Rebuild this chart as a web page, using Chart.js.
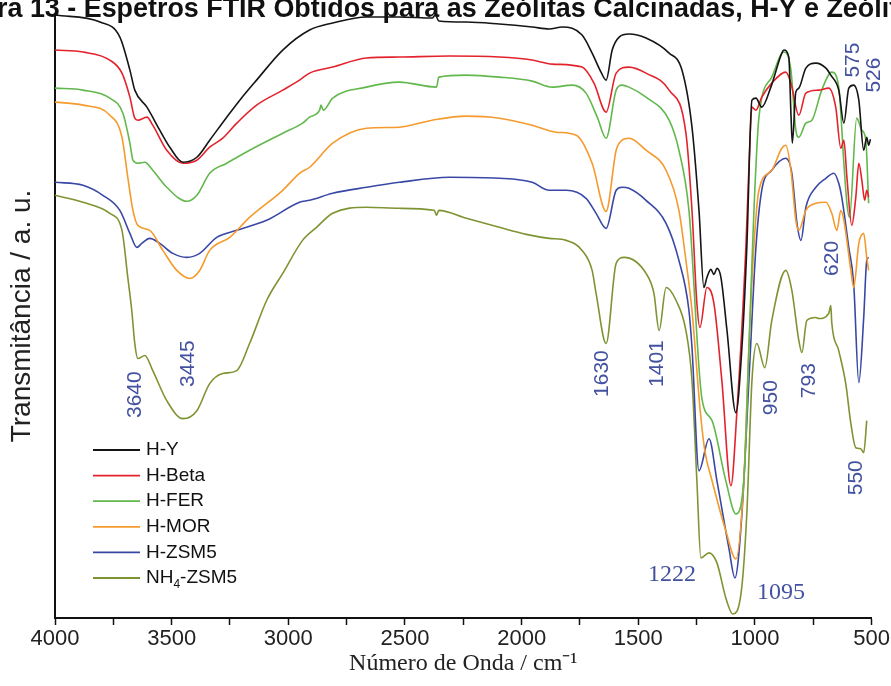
<!DOCTYPE html>
<html>
<head>
<meta charset="utf-8">
<script src="https://cdn.jsdelivr.net/npm/chart.js@4.4.1/dist/chart.umd.min.js"></script>
<style>
  html, body { margin: 0; padding: 0; background: #fff; }
  #wrap { width: 891px; height: 686px; position: relative; }
</style>
</head>
<body>
<div id="wrap"><canvas id="ftir" width="891" height="686"></canvas></div>
<script>
// spectra: [wavenumber cm-1, transmittance a.u.]
const hY = [
  [4000, 602], [3807, 595], [3722, 580], [3679, 547], [3658, 527], [3606, 510], [3551, 487],
  [3508, 470], [3452, 455], [3392, 460], [3337, 477], [3264, 500], [3208, 517], [3136, 537],
  [3024, 567], [2909, 587], [2810, 594], [2665, 600], [2524, 600], [2383, 599], [2370, 602],
  [2355, 596], [2237, 595], [2096, 593], [1955, 590], [1882, 588], [1826, 590], [1741, 582],
  [1698, 564], [1660, 545], [1638, 537], [1612, 567], [1582, 580], [1540, 583], [1467, 579],
  [1368, 564], [1313, 547], [1270, 490], [1240, 407], [1219, 330], [1206, 340], [1189, 348],
  [1176, 343], [1163, 349], [1146, 340], [1120, 287], [1082, 205], [1056, 270], [1035, 370],
  [1013, 517], [996, 519], [971, 510], [932, 530], [885, 564], [876, 567], [855, 560],
  [846, 504], [840, 474], [825, 525], [812, 529], [782, 549], [739, 554], [696, 549],
  [675, 542], [641, 527], [619, 494], [598, 529], [577, 532], [555, 517], [534, 467],
  [521, 480], [513, 472], [505, 478]
];
const hBeta = [
  [4000, 567], [3880, 565], [3765, 557], [3713, 544], [3679, 520], [3658, 499], [3645, 497],
  [3606, 500], [3581, 492], [3521, 467], [3452, 454], [3392, 457], [3337, 470], [3281, 479],
  [3221, 494], [3136, 512], [3024, 527], [2952, 537], [2909, 544], [2810, 550], [2665, 559],
  [2524, 560], [2310, 561], [2096, 560], [1955, 557], [1869, 553], [1741, 550], [1690, 534],
  [1638, 505], [1595, 544], [1540, 550], [1467, 544], [1368, 527], [1296, 484], [1270, 407],
  [1249, 314], [1236, 290], [1206, 330], [1176, 314], [1142, 237], [1103, 132], [1078, 204],
  [1039, 370], [1026, 450], [1013, 510], [996, 507], [971, 520], [928, 534], [868, 545],
  [846, 534], [812, 502], [782, 524], [727, 527], [684, 529], [654, 510], [632, 469],
  [619, 477], [606, 440], [585, 392], [568, 420], [555, 454], [542, 437], [530, 417],
  [521, 427], [513, 420]
];
const hFer = [
  [4000, 529], [3880, 527], [3765, 519], [3709, 504], [3679, 474], [3666, 457], [3645, 454],
  [3615, 455], [3581, 447], [3521, 430], [3435, 416], [3392, 422], [3337, 444], [3264, 454],
  [3166, 467], [3024, 484], [2939, 494], [2909, 500], [2866, 507], [2860, 512], [2850, 507],
  [2810, 519], [2665, 530], [2524, 535], [2365, 530], [2355, 540], [2237, 542], [2096, 540],
  [1955, 536], [1869, 530], [1783, 532], [1724, 524], [1676, 500], [1638, 479], [1595, 527],
  [1570, 532], [1540, 530], [1467, 520], [1368, 497], [1326, 467], [1283, 407], [1228, 220],
  [1184, 197], [1125, 137], [1082, 104], [1048, 137], [1026, 270], [1005, 404], [983, 500],
  [928, 540], [876, 565], [846, 547], [825, 487], [812, 480], [782, 494], [756, 497],
  [714, 527], [671, 545], [641, 530], [619, 454], [606, 414], [595, 400], [564, 499],
  [542, 487], [525, 477], [513, 414]
];
const hMor = [
  [4000, 515], [3880, 512], [3765, 502], [3713, 480], [3688, 440], [3666, 407], [3645, 392],
  [3594, 387], [3538, 367], [3478, 347], [3422, 339], [3380, 347], [3337, 367], [3251, 380],
  [3166, 400], [3024, 427], [2952, 444], [2909, 450], [2810, 474], [2665, 489], [2524, 490],
  [2383, 497], [2237, 501], [2096, 499], [1955, 492], [1852, 485], [1766, 482], [1698, 454],
  [1638, 406], [1595, 467], [1570, 477], [1540, 479], [1467, 467], [1381, 447], [1326, 407],
  [1296, 357], [1270, 307], [1236, 210], [1215, 167], [1184, 137], [1125, 87], [1082, 59],
  [1048, 137], [1026, 270], [1005, 370], [983, 427], [928, 447], [885, 469], [868, 472],
  [846, 447], [825, 397], [812, 387], [782, 407], [739, 414], [696, 415], [671, 404],
  [649, 387], [632, 407], [619, 397], [589, 347], [577, 330], [555, 374], [534, 384],
  [521, 360], [513, 347]
];
const hZsm5 = [
  [4000, 435], [3880, 432], [3795, 422], [3722, 407], [3679, 384], [3649, 370], [3628, 374],
  [3594, 379], [3551, 374], [3495, 364], [3435, 360], [3380, 364], [3307, 380], [3221, 387],
  [3093, 397], [2952, 415], [2909, 417], [2810, 424], [2665, 430], [2524, 435], [2310, 440],
  [2096, 439], [1955, 435], [1882, 427], [1809, 427], [1724, 419], [1681, 404], [1638, 389],
  [1595, 427], [1570, 430], [1540, 429], [1467, 417], [1381, 394], [1326, 357], [1283, 307],
  [1270, 270], [1240, 147], [1197, 179], [1163, 137], [1112, 70], [1086, 40], [1056, 104],
  [1026, 237], [996, 370], [971, 427], [928, 447], [868, 459], [842, 444], [820, 394],
  [803, 377], [782, 410], [739, 430], [696, 439], [662, 444], [641, 434], [628, 420],
  [598, 370], [577, 334], [555, 235], [534, 300], [521, 357], [513, 360]
];
const nh4Zsm5 = [
  [4000, 422], [3880, 415], [3765, 404], [3713, 387], [3688, 340], [3671, 307], [3658, 274],
  [3645, 259], [3615, 262], [3581, 247], [3521, 217], [3452, 199], [3392, 207], [3337, 234],
  [3281, 244], [3221, 247], [3166, 274], [3093, 317], [3024, 344], [2939, 377], [2879, 390],
  [2810, 404], [2665, 410], [2524, 409], [2375, 407], [2365, 402], [2355, 407], [2237, 399],
  [2096, 390], [1980, 383], [1882, 379], [1809, 377], [1741, 367], [1698, 347], [1681, 324],
  [1638, 274], [1595, 354], [1561, 360], [1467, 344], [1433, 324], [1411, 287], [1381, 330],
  [1338, 317], [1296, 287], [1270, 237], [1249, 137], [1232, 60], [1197, 65], [1163, 55],
  [1125, 20], [1095, 4], [1060, 24], [1035, 104], [1013, 237], [992, 274], [958, 250],
  [928, 297], [868, 347], [842, 327], [812, 277], [799, 265], [778, 297], [739, 300],
  [727, 299], [684, 304], [675, 312], [671, 295], [641, 267], [611, 234], [589, 194],
  [568, 170], [547, 169], [534, 165], [521, 197]
];

const seriesNames = ["H-Y", "H-Beta", "H-FER", "H-MOR", "H-ZSM5", "NH4-ZSM5"];
const seriesData = [hY, hBeta, hFer, hMor, hZsm5, nh4Zsm5];
const seriesColors = ["#151515", "#e3232c", "#62b84c", "#f59a2c", "#3a48a5", "#7e9432"];
const xTickLabels = [4000, 3500, 3000, 2500, 2000, 1500, 1000, 500];

// band labels: [text, wavenumber, transmittance]
const bandLabels = [
  ["3640", 3658, 223], ["3445", 3431, 254], ["1630", 1655, 244], ["1401", 1420, 254],
  ["950", 932, 220], ["793", 769, 237], ["550", 568, 140], ["620", 671, 359],
  ["575", 577, 557], ["526", 491, 542]
];
const bandLabelsFlat = [["1222", 1356, 43], ["1095", 889, 25]];

const blue = "#4352a0";
const sans = '"Liberation Sans", Arial, sans-serif';
const serif = '"Liberation Serif", "Times New Roman", serif';

const extras = {
  id: "extras",
  afterDraw(chart) {
    const { ctx, chartArea: a, scales: { x, y } } = chart;
    ctx.save();

    // figure caption, cut by the top edge
    const caption = "ra 13 - Espetros FTIR Obtidos para as Zeólitas Calcinadas, H-Y e Zeólit";
    ctx.font = "bold 24px " + sans;
    const w = ctx.measureText(caption).width;
    const fs = 24 * 902 / w;
    ctx.font = "bold " + fs.toFixed(1) + "px " + sans;
    ctx.fillStyle = "#111";
    ctx.textAlign = "left";
    ctx.textBaseline = "alphabetic";
    ctx.fillText(caption, -3, 17);

    // rotated band labels
    ctx.fillStyle = blue;
    ctx.font = "21px " + sans;
    ctx.textAlign = "center";
    ctx.textBaseline = "middle";
    bandLabels.forEach(([t, wn, v]) => {
      ctx.save();
      ctx.translate(x.getPixelForValue(wn), y.getPixelForValue(v));
      ctx.rotate(-Math.PI / 2);
      ctx.fillText(t, 0, 0);
      ctx.restore();
    });
    ctx.font = "24px " + serif;
    bandLabelsFlat.forEach(([t, wn, v]) => {
      ctx.fillText(t, x.getPixelForValue(wn), y.getPixelForValue(v));
    });

    // legend
    const lx = a.left + 38, ly = 450;
    ctx.font = "19px " + sans;
    ctx.textAlign = "left";
    seriesNames.forEach((name, i) => {
      const yy = ly + i * 25.6;
      ctx.strokeStyle = seriesColors[i];
      ctx.lineWidth = 1.8;
      ctx.beginPath();
      ctx.moveTo(lx, yy);
      ctx.lineTo(lx + 47, yy);
      ctx.stroke();
      ctx.fillStyle = "#111";
      if (name === "NH4-ZSM5") {
        ctx.fillText("NH", lx + 53, yy);
        const w1 = ctx.measureText("NH").width;
        ctx.font = "12px " + sans;
        ctx.fillText("4", lx + 53 + w1, yy + 7);
        const w2 = ctx.measureText("4").width;
        ctx.font = "19px " + sans;
        ctx.fillText("-ZSM5", lx + 53 + w1 + w2, yy);
      } else {
        ctx.fillText(name, lx + 53, yy);
      }
    });
    ctx.restore();
  }
};

new Chart(document.getElementById("ftir"), {
  type: "line",
  data: {
    datasets: seriesData.map((d, i) => ({
      label: seriesNames[i],
      data: d.map(p => ({ x: p[0], y: p[1] })),
      borderColor: seriesColors[i],
      borderWidth: 1.6,
      pointRadius: 0,
      fill: false,
      cubicInterpolationMode: "monotone"
    }))
  },
  options: {
    responsive: false,
    animation: false,
    devicePixelRatio: 1,
    layout: { padding: { top: 14, right: 18, left: 0, bottom: 0 } },
    scales: {
      x: {
        type: "linear",
        reverse: true,
        min: 500,
        max: 4000,
        ticks: {
          stepSize: 250,
          autoSkip: false,
          maxRotation: 0,
          padding: 1,
          color: "#222",
          font: { family: sans, size: 22 },
          callback: v => xTickLabels.includes(v) ? String(v) : ""
        },
        grid: { drawOnChartArea: false, tickLength: 7, color: "#111", tickWidth: 1.5 },
        border: { display: true, color: "#111", width: 2 },
        title: {
          display: true,
          text: "Número de Onda / cm⁻¹",
          color: "#222",
          font: { family: serif, size: 24 },
          padding: { top: 0, bottom: 8 }
        },
        afterFit: s => { s.height = 68; }
      },
      y: {
        min: 0,
        max: 603,
        ticks: { display: false },
        grid: { display: false },
        border: { display: true, color: "#111", width: 2 },
        title: {
          display: true,
          text: "Transmitância / a. u.",
          color: "#222",
          font: { family: sans, size: 28 },
          padding: { top: 5, bottom: 0 }
        },
        afterFit: s => { s.width = 55; }
      }
    },
    plugins: {
      legend: { display: false },
      tooltip: { enabled: false }
    }
  },
  plugins: [extras]
});
</script>
</body>
</html>
